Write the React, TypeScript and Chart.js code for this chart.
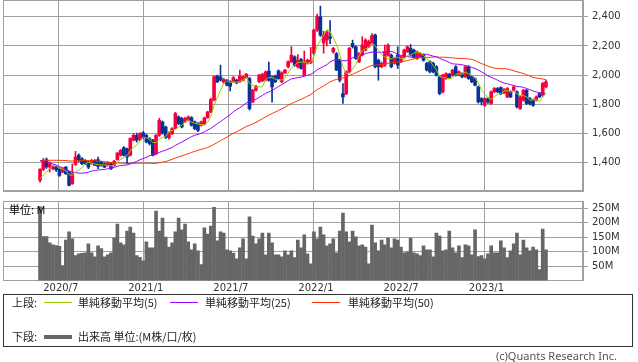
import React, { useEffect, useRef } from "react";
import { Chart, registerables } from "chart.js";

Chart.register(...registerables);

// ---- data (weekly candles, 2020/5 - 2023/5) ----
const opens = [
  1278, 1353, 1420, 1370, 1358, 1370, 1358, 1335, 1369, 1335,
  1255, 1388, 1450, 1427, 1415, 1404, 1392, 1415, 1420, 1404,
  1392, 1381, 1392, 1381, 1420, 1450, 1502, 1495, 1450, 1553,
  1587, 1557, 1605, 1587, 1564, 1553, 1461, 1587, 1678, 1644,
  1569, 1598, 1633, 1713, 1702, 1679, 1690, 1708, 1679, 1667,
  1656, 1662, 1708, 1747, 1828, 1993, 1988, 1951, 1965, 1954,
  1954, 1965, 1954, 1965, 1983, 1976, 1816, 1896, 1954, 1960,
  1965, 2027, 1988, 1993, 2029, 1954, 2015, 2057, 2091, 2125,
  2057, 2107, 2000, 2080, 2084, 2148, 2309, 2400, 2220, 2240,
  2263, 2160, 2148, 2102, 1873, 1873, 2022, 2217, 2194, 2091,
  2137, 2171, 2194, 2217, 2275, 2102, 2057, 2068, 2137, 2137,
  2080, 2137, 2091, 2125, 2160, 2183, 2171, 2114, 2125, 2137,
  2080, 2091, 2080, 2057, 1988, 1885, 1976, 2006, 1999, 2057,
  2000, 2010, 1988, 2057, 1988, 1976, 1919, 1839, 1793, 1839,
  1805, 1885, 1908, 1915, 1878, 1850, 1885, 1896, 1885, 1770,
  1828, 1896, 1839, 1828, 1828, 1873, 1862, 1919,
];
const closes = [
  1353, 1415, 1370, 1392, 1370, 1350, 1312, 1358, 1323, 1243,
  1323, 1438, 1415, 1392, 1392, 1369, 1415, 1381, 1374, 1381,
  1369, 1399, 1358, 1408, 1465, 1484, 1450, 1438, 1565, 1587,
  1553, 1598, 1571, 1541, 1530, 1450, 1587, 1690, 1603, 1575,
  1603, 1633, 1736, 1667, 1644, 1702, 1713, 1656, 1633, 1621,
  1679, 1706, 1747, 1832, 1988, 1954, 1965, 1970, 1931, 1924,
  1983, 1947, 1993, 1988, 2006, 1770, 1896, 1924, 2000, 2006,
  2022, 1965, 1919, 1954, 1976, 2015, 2034, 2091, 2137, 2068,
  2102, 2045, 2091, 2102, 2102, 2309, 2400, 2274, 2275, 2297,
  2252, 2183, 2034, 1965, 1850, 2022, 2183, 2194, 2114, 2148,
  2206, 2240, 2229, 2270, 2057, 2057, 2080, 2160, 2206, 2057,
  2114, 2068, 2125, 2171, 2194, 2137, 2125, 2160, 2148, 2102,
  2034, 2022, 2022, 2000, 1873, 2000, 2010, 1983, 2034, 1999,
  2022, 1988, 2057, 1976, 1954, 1930, 1816, 1816, 1839, 1816,
  1885, 1908, 1885, 1873, 1901, 1908, 1850, 1919, 1782, 1850,
  1896, 1805, 1805, 1793, 1850, 1850, 1942, 1954,
];
const highs = [
  1358, 1429, 1432, 1405, 1380, 1378, 1365, 1365, 1372, 1340,
  1390, 1477, 1460, 1435, 1420, 1410, 1422, 1420, 1438, 1410,
  1398, 1405, 1398, 1415, 1470, 1490, 1510, 1500, 1570, 1600,
  1602, 1605, 1612, 1595, 1570, 1560, 1592, 1703, 1685, 1650,
  1610, 1640, 1745, 1720, 1710, 1710, 1720, 1715, 1685, 1675,
  1685, 1712, 1752, 1840, 1995, 2000, 2068, 1978, 1970, 1960,
  1990, 1972, 2035, 1995, 2012, 1985, 1902, 1930, 2006, 2012,
  2028, 2090, 1995, 2000, 2035, 2022, 2040, 2098, 2195, 2132,
  2140, 2115, 2165, 2110, 2190, 2315, 2418, 2473, 2300, 2305,
  2373, 2190, 2155, 2110, 1942, 2030, 2190, 2240, 2200, 2155,
  2263, 2250, 2240, 2285, 2282, 2110, 2090, 2206, 2215, 2145,
  2120, 2194, 2130, 2178, 2200, 2210, 2178, 2165, 2155, 2145,
  2088, 2098, 2090, 2065, 1995, 2006, 2016, 2012, 2040, 2065,
  2030, 2016, 2065, 2065, 1995, 1982, 1925, 1845, 1845, 1845,
  1892, 1915, 1915, 1920, 1908, 1915, 1892, 1925, 1892, 1858,
  1902, 1902, 1845, 1835, 1858, 1880, 1950, 1965,
];
const lows = [
  1266, 1345, 1360, 1335, 1350, 1340, 1305, 1330, 1318, 1240,
  1250, 1380, 1405, 1385, 1385, 1358, 1388, 1378, 1358, 1375,
  1365, 1375, 1352, 1375, 1415, 1445, 1445, 1392, 1445, 1548,
  1540, 1550, 1565, 1535, 1520, 1445, 1455, 1580, 1595, 1565,
  1560, 1592, 1628, 1660, 1638, 1675, 1685, 1650, 1625, 1612,
  1650, 1658, 1704, 1742, 1822, 1948, 1960, 1945, 1925, 1892,
  1950, 1940, 1950, 1960, 1978, 1760, 1810, 1890, 1948, 1955,
  1960, 1958, 1815, 1948, 1970, 1948, 2010, 2050, 2085, 2060,
  2050, 2040, 1995, 2075, 2078, 2140, 2300, 2265, 2150, 2200,
  2215, 2150, 2030, 1953, 1805, 1865, 2015, 2185, 2108, 2085,
  2130, 2165, 2188, 2210, 2050, 1965, 2050, 2060, 2130, 2050,
  2075, 2045, 2085, 2118, 2155, 2130, 2118, 2108, 2120, 2095,
  2028, 2015, 2015, 1993, 1865, 1878, 1970, 1978, 1993, 1993,
  1995, 1980, 1982, 1970, 1948, 1925, 1808, 1795, 1785, 1805,
  1798, 1880, 1878, 1865, 1872, 1845, 1845, 1890, 1775, 1765,
  1820, 1798, 1795, 1785, 1822, 1845, 1855, 1912,
];
// weekly volume, millions of shares
const volumes = [
  255, 152, 152, 130, 123, 121, 118, 52, 140, 168,
  144, 86, 92, 94, 96, 127, 96, 82, 120, 110,
  82, 89, 96, 147, 195, 130, 123, 171, 185, 164,
  86, 80, 68, 134, 113, 113, 240, 171, 216, 150,
  116, 130, 168, 216, 175, 195, 134, 106, 127, 103,
  55, 182, 161, 188, 253, 137, 168, 164, 106, 103,
  95, 75, 113, 144, 75, 220, 154, 127, 144, 164,
  89, 164, 130, 89, 89, 82, 103, 89, 103,
  79, 140, 113, 158, 92, 58, 168, 144, 185, 158,
  120, 127, 144, 96, 171, 233, 168, 134, 171, 151,
  120, 123, 116, 58, 192, 130, 103, 140, 123, 147,
  113, 144, 140, 116, 96, 99, 147, 96, 92, 86,
  120, 106, 106, 82, 164, 154, 103, 106, 171, 113,
  96, 120, 79, 123, 120, 89, 175, 83, 86, 75,
  92, 120, 96, 96, 137, 113, 79, 103, 127, 164,
  89, 140, 113, 103, 116, 106, 38, 178, 106,
];
// weekly closes before the first visible week (feed the moving averages)
const priorCloses = [
  1320, 1330, 1340, 1350, 1345, 1360, 1370, 1380, 1390, 1340,
  1320, 1330, 1350, 1380, 1440, 1460, 1470, 1450, 1460, 1490,
  1500, 1510, 1520, 1530, 1520, 1510, 1530, 1540, 1550, 1540,
  1560, 1570, 1560, 1540, 1520, 1530, 1500, 1400, 1360, 1250,
  1200, 1300, 1280, 1330, 1320, 1290, 1270, 1260, 1270,
];
const priceTicks = [1400, 1600, 1800, 2000, 2200, 2400];
const volumeTicks = [50, 100, 150, 200, 250];
const dateLabels = ["2020/7", "2021/1", "2021/7", "2022/1", "2022/7", "2023/1"];
const dateWeeks = [5.8, 32.2, 58.6, 85.0, 111.4, 137.9];
const maPeriods = [5, 25, 50];
const maColors = ["#99cc00", "#9900ff", "#ff3300"];
const legendNames = ["単純移動平均(5)", "単純移動平均(25)", "単純移動平均(50)"];

// ---- styles ----
const UP = "#f5003c";
const DOWN = "#0a3296";
const GRID = "#a0a0a0";
const TEXT = "#333333";
const VOL = "#666666";
const X_MIN = -11.5;
const X_MAX = 168.5;
const TICK_FONT = { family: "DejaVu Sans", size: 10 };
const JP = "'Noto Sans CJK JP', 'Noto Sans', sans-serif";

function sma(values: number[], prior: number[], n: number): number[] {
  const all = [...prior, ...values];
  return values.map((_, i) => {
    const end = prior.length + i;
    let s = 0;
    for (let k = end - n + 1; k <= end; k++) s += all[k];
    return s / n;
  });
}

const framePlugin = {
  id: "frame",
  beforeDatasetsDraw(chart: any) {
    const { ctx, chartArea: a } = chart;
    ctx.save();
    ctx.strokeStyle = GRID;
    ctx.lineWidth = 1;
    const l = Math.round(a.left) + 0.5;
    const t = Math.round(a.top) + 0.5;
    const r = Math.round(a.right) - 0.5;
    const b = Math.round(a.bottom) - 0.5;
    ctx.strokeRect(l, t, r - l, b - t);
    ctx.restore();
  },
};

const noPad = (s: any) => {
  s.paddingTop = 0;
  s.paddingBottom = 0;
  s.paddingLeft = 0;
  s.paddingRight = 0;
};

export default function App() {
  const mainRef = useRef<HTMLCanvasElement>(null);
  const volRef = useRef<HTMLCanvasElement>(null);

  useEffect(() => {
    const idx = closes.map((_, i) => i);
    const colorOf = (i: number) => (closes[i] >= opens[i] ? UP : DOWN);
    const mas = maPeriods.map((p) => sma(closes, priorCloses, p));

    const xScale = (showLabels: boolean) => ({
      type: "linear" as const,
      min: X_MIN,
      max: X_MAX,
      offset: false,
      afterBuildTicks: (s: any) => {
        s.ticks = dateWeeks.map((v) => ({ value: v }));
      },
      afterFit: (s: any) => {
        noPad(s);
        s.height = showLabels ? 14.5 : 0;
      },
      ticks: {
        display: showLabels,
        autoSkip: false,
        maxRotation: 0,
        padding: 2,
        labelOffset: 2,
        color: TEXT,
        font: TICK_FONT,
        callback: (_v: any, i: number) => dateLabels[i],
      },
      grid: { color: GRID, drawTicks: false, offset: false },
      border: { color: GRID },
    });

    const yScale = (min: number, max: number, ticks: number[], fmt: (v: number) => string) => ({
      position: "right" as const,
      min,
      max,
      afterBuildTicks: (s: any) => {
        s.ticks = ticks.map((v) => ({ value: v }));
      },
      afterFit: (s: any) => {
        noPad(s);
        s.width = 55;
      },
      ticks: {
        padding: 4,
        color: TEXT,
        font: TICK_FONT,
        callback: (v: any) => fmt(Number(v)),
      },
      grid: { color: GRID, tickLength: 5 },
      border: { color: GRID },
    });

    const main = new Chart(mainRef.current!, {
      type: "bar",
      data: {
        datasets: [
          ...mas.map((ma, k) => ({
            type: "line" as const,
            label: legendNames[k],
            data: ma.map((v, i) => ({ x: i, y: v })),
            borderColor: maColors[k],
            borderWidth: 1,
            pointRadius: 0,
            fill: false,
            order: 0,
          })),
          {
            type: "bar" as const,
            label: "body",
            data: idx.map((i) => ({ x: i, y: [opens[i], closes[i]] })) as any,
            backgroundColor: idx.map(colorOf),
            barThickness: 3,
            minBarLength: 1,
            grouped: false,
            borderWidth: 0,
            order: 1,
          },
          {
            type: "bar" as const,
            label: "wick",
            data: idx.map((i) => ({ x: i, y: [lows[i], highs[i]] })) as any,
            backgroundColor: idx.map(colorOf),
            barThickness: 1,
            grouped: false,
            borderWidth: 0,
            order: 2,
          },
        ],
      },
      options: {
        responsive: false,
        animation: false,
        layout: { padding: { left: 3, top: 0, right: 0, bottom: 1 } },
        plugins: { legend: { display: false }, tooltip: { enabled: false } },
        scales: {
          x: xScale(false) as any,
          y: yScale(1205, 2515, priceTicks, (v) => v.toLocaleString("en-US")) as any,
        },
      },
      plugins: [framePlugin],
    });

    const vol = new Chart(volRef.current!, {
      type: "bar",
      data: {
        datasets: [
          {
            label: "出来高",
            data: volumes.map((v, i) => ({ x: i, y: v })),
            backgroundColor: VOL,
            barThickness: 3,
            borderWidth: 0,
          },
        ],
      },
      options: {
        responsive: false,
        animation: false,
        layout: { padding: { left: 3, top: 6, right: 0, bottom: 0 } },
        plugins: { legend: { display: false }, tooltip: { enabled: false } },
        scales: {
          x: xScale(true) as any,
          y: yScale(0, 275, volumeTicks, (v) => `${v}M`) as any,
        },
      },
      plugins: [framePlugin],
    });

    return () => {
      main.destroy();
      vol.destroy();
    };
  }, []);

  const legendText: React.CSSProperties = {
    position: "absolute",
    fontFamily: JP,
    fontSize: 11,
    lineHeight: "14px",
    color: "#222",
    whiteSpace: "nowrap",
  };
  const lineX = [44, 170, 312];
  const textX = [78, 205, 348];

  return (
    <div style={{ position: "absolute", left: 0, top: 0, width: 638, height: 362, background: "#fff" }}>
      <canvas ref={mainRef} width={638} height={192} style={{ position: "absolute", left: 0, top: 0 }} />
      <canvas ref={volRef} width={638} height={100} style={{ position: "absolute", left: 0, top: 195 }} />
      <div style={{ ...legendText, left: 9, top: 202, color: "#000" }}>単位: M</div>

      <div
        style={{
          position: "absolute",
          left: 3,
          top: 294,
          width: 628,
          height: 51,
          border: "1px solid #333",
          boxSizing: "content-box",
        }}
      />
      <div style={{ ...legendText, left: 12, top: 295 }}>上段:</div>
      {maColors.map((c, k) => (
        <React.Fragment key={k}>
          <div style={{ position: "absolute", left: lineX[k], top: 302, width: 28, height: 1, background: c }} />
          <div style={{ ...legendText, left: textX[k], top: 295 }}>{legendNames[k]}</div>
        </React.Fragment>
      ))}
      <div style={{ ...legendText, left: 12, top: 329 }}>下段:</div>
      <div style={{ position: "absolute", left: 44, top: 335, width: 28, height: 4, background: VOL }} />
      <div style={{ ...legendText, left: 78, top: 329 }}>出来高 単位:(M株/口/枚)</div>

      <div
        style={{
          position: "absolute",
          right: 21,
          top: 349,
          fontFamily: "'Noto Sans', sans-serif",
          fontSize: 11,
          lineHeight: "14px",
          color: "#555",
          whiteSpace: "nowrap",
        }}
      >
        (c)Quants Research Inc.
      </div>
    </div>
  );
}
